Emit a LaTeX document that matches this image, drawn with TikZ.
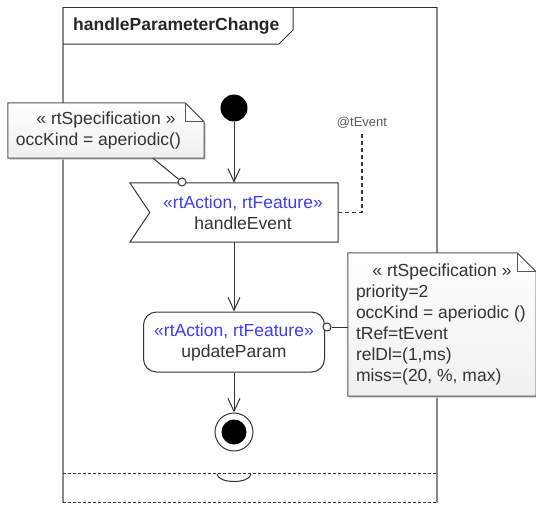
\documentclass[tikz,border=0pt]{standalone}
\usepackage{fontspec}
\setmainfont{Liberation Sans}
\usetikzlibrary{arrows.meta,calc}
\definecolor{txtdark}{HTML}{333333}
\definecolor{stereoblue}{HTML}{3C3CF5}
\definecolor{framegray}{HTML}{888888}
\definecolor{linedark}{HTML}{333333}
\definecolor{noteline}{HTML}{555555}
\pgfdeclarelayer{bgzero}
\pgfdeclarelayer{bgone}
\pgfsetlayers{bgzero,bgone,main}
\tikzset{
  flow/.style={draw=linedark, line width=1pt, -{Straight Barb[length=13pt,width=12pt,line width=1pt]}},
  conn/.style={draw=linedark, line width=1pt},
  dashline/.style={draw=linedark, line width=1.2pt, dash pattern=on 4pt off 3pt},
  framedash/.style={draw=linedark, line width=1pt, dash pattern=on 3pt off 2pt},
  notenode/.style={inner sep=0pt, align=left},
  port/.style={circle, draw=linedark, fill=white, line width=1pt, minimum size=8pt, inner sep=0pt},
}
\newcommand\NoteShape[1]{%
  \fill[gray!45] ([shift={(1.5pt,-1.5pt)}]#1.north west) -- ([shift={(-17.5pt,-1.5pt)}]#1.north east)
     -- ([shift={(1.5pt,-20.5pt)}]#1.north east) -- ([shift={(1.5pt,-1.5pt)}]#1.south east)
     -- ([shift={(1.5pt,-1.5pt)}]#1.south west) -- cycle;
  \shade[top color=white, bottom color=black!6, draw=noteline, line width=1pt]
     (#1.north west) -- ([xshift=-19pt]#1.north east) -- ([yshift=-19pt]#1.north east)
     -- (#1.south east) -- (#1.south west) -- cycle;
  \draw[noteline, line width=1pt] ([xshift=-19pt]#1.north east) |- ([yshift=-19pt]#1.north east);
}
\begin{document}
\begin{tikzpicture}[x=1pt,y=-1pt, font=\fontsize{17.5}{21}\selectfont, text=txtdark]
\useasboundingbox (0,0) rectangle (536,504);

% frame
\begin{pgfonlayer}{bgzero}
  \draw[framegray, line width=2pt] (63,7) -- (63,503);
  \draw[framegray, line width=2pt] (437,7) -- (437,503);
  \draw[linedark, line width=1pt] (63,7) -- (437,7);
  \draw[linedark, line width=1pt] (63,44) -- (279,44) -- (293,30) -- (293,7);
  \draw[framedash] (63,473) -- (437,473);
  \draw[framedash] (63,502) -- (437,502);
  \draw[linedark, line width=1pt] (217,474) .. controls (218,484) and (250,484) .. (251,474);
\end{pgfonlayer}
\node[font=\fontsize{17.5}{21}\selectfont\bfseries, text=black!85, anchor=west, inner sep=0pt] (title) at (73,26) {handleParameterChange};

% nodes
\node[circle, fill=black, minimum size=27pt, inner sep=0pt] (init) at (234,108) {};

\node[minimum width=208pt, minimum height=59pt, inner sep=0pt] (he) at (234,212.5) {};
\draw[linedark, line width=1pt] (he.north west) -- (he.north east) -- (he.south east)
   -- (he.south west) -- ([xshift=20pt]he.west) -- cycle;
\node[align=center, inner sep=0pt] (het) at ([xshift=9pt]he.center)
   {\textcolor{stereoblue}{«rtAction, rtFeature»}\\handleEvent};

\node[draw=linedark, line width=1pt, rounded corners=13pt, minimum width=181pt,
      minimum height=60pt, align=center, inner sep=0pt] (up) at (234,342)
   {\textcolor{stereoblue}{«rtAction, rtFeature»}\\updateParam};

\node[circle, draw=linedark, line width=1pt, minimum size=38pt, inner sep=0pt] (fin) at (234,432) {};
\node[circle, fill=black, minimum size=25pt, inner sep=0pt] (fincore) at (fin.center) {};

% notes
\node[notenode, minimum width=196pt, minimum height=55pt]
   (n1) at (106,130.5) {\makebox[180pt]{« rtSpecification »}\\occKind = aperiodic()};
\node[notenode, minimum width=188pt, minimum height=143pt]
   (n2) at (442,324.5) {\makebox[172pt]{« rtSpecification »}\\priority=2\\occKind = aperiodic ()\\tRef=tEvent\\relDl=(1,ms)\\miss=(20, \%, max)};
\begin{pgfonlayer}{bgone}
  \NoteShape{n1}
  \NoteShape{n2}
\end{pgfonlayer}

\node[font=\fontsize{13}{15}\selectfont, text=black!65, inner sep=1pt] (tev) at (362,123) {@tEvent};

% ports
\node[port] (c1) at (182,182) {};
\node[port] (c2) at (327,327) {};

% connectors
\draw[flow] (init) -- (he.north);
\draw[flow] (he.south) -- (up.north);
\draw[flow] (up.south) -- (fin);
\draw[conn] ([xshift=47pt]n1.south) -- (c1);
\draw[conn] (c2) -- (c2 -| n2.west);
\draw[dashline] (he.east) -| ([yshift=-4pt]tev.south);
\end{tikzpicture}
\end{document}
